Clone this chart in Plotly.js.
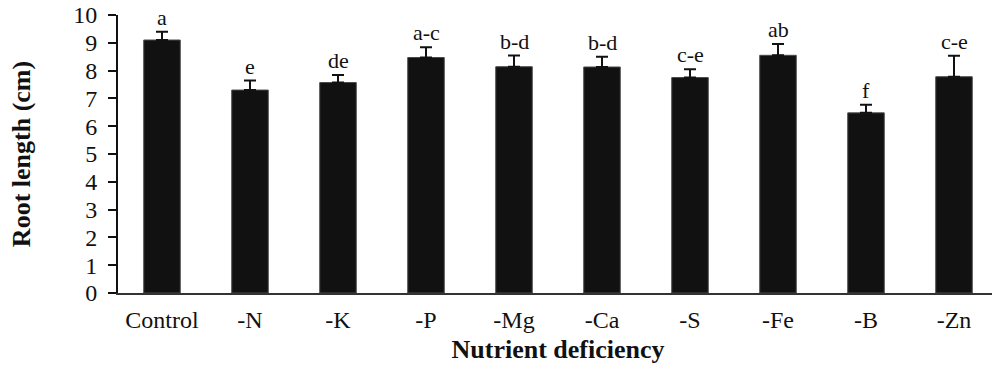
<!DOCTYPE html>
<html>
<head>
<meta charset="utf-8">
<script src="https://cdn.plot.ly/plotly-3.0.1.min.js"></script>
<style>
  html, body { margin: 0; padding: 0; overflow: hidden; background: #fff; }
  #chart { width: 1000px; height: 373px; }
</style>
</head>
<body>
<div id="chart"></div>
<script>
// Root length under each nutrient-deficiency treatment (mean + SE)
const treatments = ["Control", "-N", "-K", "-P", "-Mg", "-Ca", "-S", "-Fe", "-B", "-Zn"];
const rootLength = [9.10, 7.30, 7.57, 8.47, 8.14, 8.13, 7.75, 8.55, 6.48, 7.78];
const stdError   = [0.30, 0.34, 0.27, 0.37, 0.40, 0.37, 0.30, 0.41, 0.29, 0.75];
const letters    = ["a", "e", "de", "a-c", "b-d", "b-d", "c-e", "ab", "f", "c-e"];

const serif = "Liberation Serif";

const bars = {
  type: "bar",
  x: treatments,
  y: rootLength,
  marker: { color: "#111111", line: { color: "#4a4a4a", width: 1 } },
  error_y: {
    type: "data",
    symmetric: false,
    array: stdError,
    arrayminus: stdError.map(() => 0),
    color: "#111111",
    thickness: 2,
    width: 6
  },
  hoverinfo: "x+y"
};

// Significance letters sit just above each error bar
const letterNotes = treatments.map((t, i) => ({
  x: t,
  y: rootLength[i] + stdError[i],
  xref: "x",
  yref: "y",
  text: letters[i],
  showarrow: false,
  yanchor: "bottom",
  yshift: 0,
  font: { family: serif, size: 22, color: "#111111" }
}));

const layout = {
  width: 1000,
  height: 373,
  margin: { l: 118, r: 2, t: 15, b: 80 },
  paper_bgcolor: "#ffffff",
  plot_bgcolor: "#ffffff",
  showlegend: false,
  bargap: 0.585,
  font: { family: serif, size: 24, color: "#111111" },
  xaxis: {
    type: "category",
    showline: true,
    linecolor: "#333333",
    linewidth: 2,
    ticks: "",
    showgrid: false,
    zeroline: false,
    ticklabelstandoff: 4,
    tickfont: { family: serif, size: 24, color: "#111111" },
    title: {
      text: "Nutrient deficiency",
      font: { family: serif, size: 26, color: "#111111", weight: "bold" },
      standoff: 8
    }
  },
  yaxis: {
    range: [0, 10],
    dtick: 1,
    showline: true,
    linecolor: "#111111",
    linewidth: 2,
    ticks: "outside",
    ticklen: 8,
    tickwidth: 2,
    tickcolor: "#111111",
    showgrid: false,
    zeroline: false,
    ticklabelstandoff: 6,
    tickfont: { family: serif, size: 24, color: "#111111" },
    title: {
      text: "Root length (cm)",
      font: { family: serif, size: 26, color: "#111111", weight: "bold" },
      standoff: 35
    }
  },
  annotations: letterNotes
};

Plotly.newPlot("chart", [bars], layout, { displayModeBar: false, staticPlot: true });
</script>
</body>
</html>
